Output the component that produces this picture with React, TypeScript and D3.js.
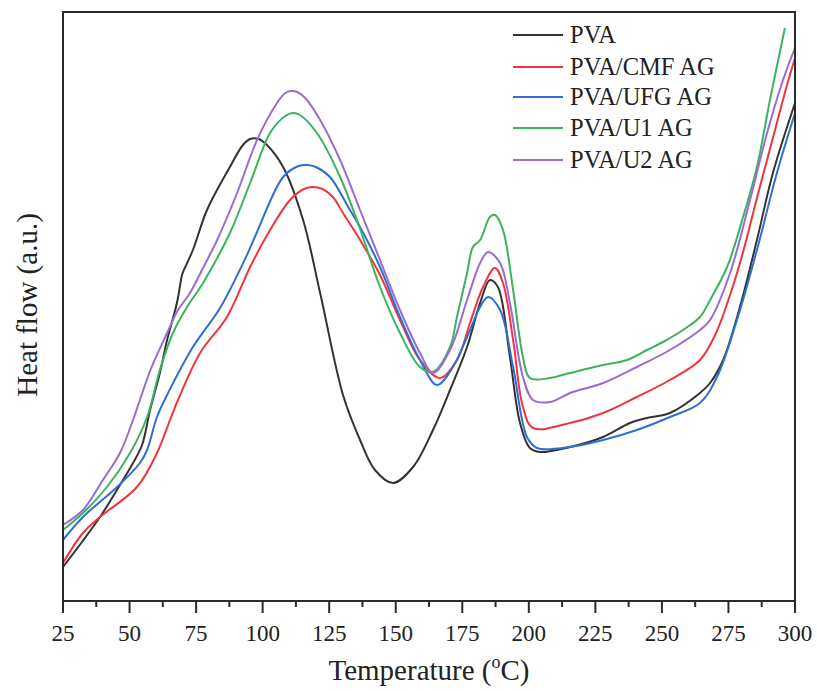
import React from "react";
import * as d3 from "d3";

// Temperature (°C) sample points and heat flow (a.u.)
const pvaT = [25, 38.9, 46.4, 51.3, 54.7, 57.7, 61.4, 64.1, 67.8, 69.7, 70.1, 73.8, 79.1, 87.7, 92.6, 95.3, 98.5, 101.6, 107.7, 115.2, 121.6, 130.2, 136.6, 142.2, 149.0, 156.5, 164.0, 170.4, 176.8, 181.7, 185.4, 188.4, 192.9, 196.7, 200.4, 204.2, 215.5, 227.9, 238.0, 244.4, 253.0, 264.3, 268.1, 273.0, 279.3, 285.7, 291.7, 300];
const pvaV = [34, 84, 116, 138, 156, 191, 228, 261, 298, 326, 329, 351, 391, 434, 456, 462, 462, 456, 434, 381, 308, 206, 161, 131, 118, 134, 171, 211, 254, 298, 321, 314, 244, 178, 153, 149, 154, 164, 178, 183, 188, 208, 218, 241, 294, 361, 428, 498];

const cmfT = [25, 32.5, 38.9, 52.8, 60.3, 65.2, 68.2, 76.5, 86.6, 95.3, 102.8, 110.3, 115.5, 118.9, 122.5, 126.4, 130.2, 136.6, 144.1, 151.6, 159.1, 166.6, 173.0, 177.9, 182.8, 187.3, 190.3, 194.1, 197.8, 201.6, 215.5, 227.9, 240.6, 253.0, 264.3, 270.0, 275.6, 280.5, 285.7, 291.7, 297.0, 300];
const cmfV = [38, 68, 84, 114, 148, 181, 201, 248, 284, 334, 371, 401, 412, 414, 412, 404, 388, 361, 326, 281, 241, 223, 241, 278, 314, 333, 318, 261, 194, 173, 178, 188, 204, 221, 241, 266, 306, 349, 403, 463, 516, 543];

const ufgT = [25, 32.5, 45.3, 53.9, 56.6, 60.3, 64.1, 73.8, 84.0, 94.1, 97.9, 107.7, 113.5, 116.7, 120.0, 125.3, 132.8, 136.6, 144.1, 151.6, 159.1, 165.5, 171.5, 176.8, 181.7, 184.7, 189.2, 194.1, 199.3, 203.1, 215.5, 227.9, 240.6, 253.0, 264.3, 270.7, 278.2, 285.7, 293.2, 300];
const ufgV = [61, 84, 114, 138, 151, 184, 206, 254, 293, 346, 369, 424, 435, 436, 434, 424, 391, 374, 334, 284, 241, 216, 234, 264, 294, 304, 291, 234, 164, 153, 154, 161, 171, 184, 198, 224, 281, 351, 428, 488];

const u1T = [25, 32.5, 41.5, 50.2, 56.6, 61.4, 66.3, 71.6, 77.6, 87.7, 95.3, 102.8, 108.0, 111.4, 114.0, 120.4, 129.1, 136.6, 144.1, 151.6, 159.1, 164.0, 170.4, 173.0, 176.8, 179.0, 181.7, 185.4, 187.3, 190.3, 194.1, 197.8, 200.4, 208.0, 215.5, 227.9, 236.9, 244.4, 250.4, 257.9, 264.3, 268.1, 274.5, 280.5, 285.7, 290.6, 296.2];
const u1V = [71, 88, 114, 148, 184, 231, 268, 294, 318, 368, 418, 468, 484, 488, 486, 468, 424, 372, 314, 268, 234, 229, 254, 284, 328, 354, 361, 384, 386, 371, 311, 244, 223, 223, 228, 236, 241, 251, 259, 271, 284, 301, 334, 384, 434, 501, 573];

const u2T = [25, 32.5, 40.0, 46.4, 51.3, 53.9, 58.0, 64.1, 68.0, 72.7, 77.6, 82.9, 90.4, 97.9, 105.4, 108.5, 110.7, 113.0, 116.0, 121.6, 129.1, 136.6, 144.1, 151.6, 159.1, 164.0, 170.4, 176.8, 181.7, 184.7, 189.2, 192.9, 197.8, 201.6, 208.0, 215.5, 227.9, 240.6, 253.0, 264.3, 268.1, 275.6, 283.1, 289.5, 295.5, 300];
const u2V = [76, 91, 121, 148, 181, 201, 232, 268, 290, 308, 333, 361, 408, 461, 498, 508, 510, 509, 503, 481, 441, 391, 341, 291, 248, 228, 251, 301, 338, 349, 338, 298, 224, 201, 199, 208, 218, 234, 251, 271, 281, 328, 401, 468, 521, 553];

const seriesNames = ["PVA", "PVA/CMF AG", "PVA/UFG AG", "PVA/U1 AG", "PVA/U2 AG"];
const seriesColors = ["#333333", "#f0353f", "#2f6fd3", "#3cb35c", "#9b6bd1"];
const xTicks = [25, 50, 75, 100, 125, 150, 175, 200, 225, 250, 275, 300];

const series = [
  { name: seriesNames[0], t: pvaT, v: pvaV, color: seriesColors[0] },
  { name: seriesNames[1], t: cmfT, v: cmfV, color: seriesColors[1] },
  { name: seriesNames[2], t: ufgT, v: ufgV, color: seriesColors[2] },
  { name: seriesNames[3], t: u1T, v: u1V, color: seriesColors[3] },
  { name: seriesNames[4], t: u2T, v: u2V, color: seriesColors[4] },
];

const W = 817;
const H = 691;
const left = 63;
const right = 795;
const top = 12;
const bottom = 601;
const font = "'Liberation Serif', 'Times New Roman', serif";

export default function App() {
  const x = d3.scaleLinear().domain([25, 300]).range([left, right]);
  const y = d3.scaleLinear().domain([0, 589]).range([bottom, top]);
  const line = d3
    .line<[number, number]>()
    .x((d) => x(d[0]))
    .y((d) => y(d[1]))
    .curve(d3.curveCatmullRom.alpha(0.5));

  const minorTicks = xTicks.slice(0, -1).map((t) => t + 12.5);

  return (
    <svg
      width={W}
      height={H}
      style={{ position: "absolute", left: 0, top: 0, background: "#fff" }}
      fontFamily={font}
    >
      <rect x={0} y={0} width={W} height={H} fill="#fff" />
      {series.map((s) => (
        <path
          key={s.name}
          d={line(s.t.map((t, i) => [t, s.v[i]] as [number, number])) || ""}
          fill="none"
          stroke={s.color}
          strokeWidth={2}
          strokeLinejoin="round"
        />
      ))}
      <rect
        x={left}
        y={top}
        width={right - left}
        height={bottom - top}
        fill="none"
        stroke="#2a2a2a"
        strokeWidth={2}
      />
      {xTicks.map((t) => (
        <g key={t}>
          <line x1={x(t)} x2={x(t)} y1={bottom} y2={bottom + 12} stroke="#2a2a2a" strokeWidth={2} />
          <text x={x(t)} y={641} textAnchor="middle" fontSize={23} fill="#222">
            {t}
          </text>
        </g>
      ))}
      {minorTicks.map((t) => (
        <line key={t} x1={x(t)} x2={x(t)} y1={bottom} y2={bottom + 6} stroke="#2a2a2a" strokeWidth={2} />
      ))}
      <text x={429} y={680} textAnchor="middle" fontSize={29} fill="#222">
        Temperature (<tspan fontSize={18} dy={-12}>o</tspan>
        <tspan dy={12}>C)</tspan>
      </text>
      <text
        transform={`translate(37,305) rotate(-90)`}
        textAnchor="middle"
        fontSize={29}
        fill="#222"
      >
        Heat flow (a.u.)
      </text>
      {series.map((s, i) => {
        const ly = [35, 67, 97, 128, 160][i];
        return (
          <g key={s.name}>
            <line x1={513} x2={563} y1={ly} y2={ly} stroke={s.color} strokeWidth={2} />
            <text x={570} y={ly + 8} fontSize={24.5} fill="#222">
              {s.name}
            </text>
          </g>
        );
      })}
    </svg>
  );
}
